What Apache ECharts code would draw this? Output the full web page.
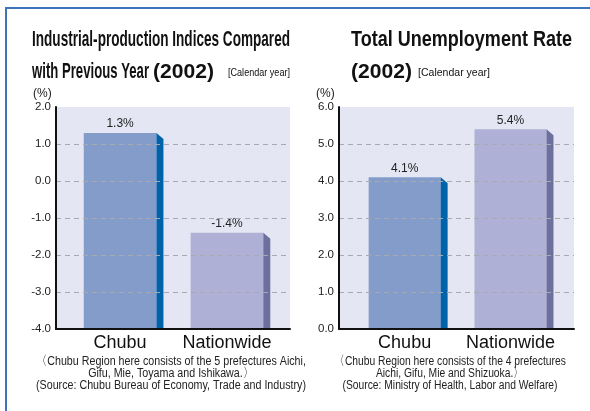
<!DOCTYPE html>
<html>
<head>
<meta charset="utf-8">
<script src="https://cdn.jsdelivr.net/npm/echarts@6/dist/echarts.min.js"></script>
<style>
  html, body { margin: 0; padding: 0; background: #ffffff; }
  #chart { width: 590px; height: 411px; }
</style>
</head>
<body>
<div id="chart"></div>
<script>
// Categories and values (percent)
const categories = ['Chubu', 'Nationwide'];
const productionValues = [1.3, -1.4];
const unemploymentValues = [4.1, 5.4];
// Value-axis ranges: [min, max, step]
const productionAxis = [-4, 2, 1];
const unemploymentAxis = [0, 6, 1];

const FONT = '"Liberation Sans", Arial, Helvetica, sans-serif';
const frontColors = ['#839cca', '#aeb0d6'];
const sideColors = ['#0062a9', '#6d6f9e'];
const plotBg = '#e4e6f3';

const measureCtx = document.createElement('canvas').getContext('2d');
function textWidth(text, font) {
  measureCtx.font = font;
  return measureCtx.measureText(text).width;
}

// Text squeezed horizontally to a given width (condensed type look)
function fitText(text, font, x, y, width, align, fill) {
  const s = width / textWidth(text, font);
  return {
    type: 'text', x: x, y: y, scaleX: s, z: 10,
    style: { text: text, font: font, fill: fill || '#111',
             align: align || 'left', verticalAlign: 'middle' }
  };
}

// Block of centred lines sharing one horizontal scale
function noteBlock(lines, cx, y0, step, refWidth) {
  const font = '12.5px ' + FONT;
  const s = refWidth / textWidth(lines[lines.length - 1], font);
  return lines.map((t, k) => ({
    type: 'text', x: cx, y: y0 + k * step, scaleX: s, z: 10,
    style: { text: t, font: font, fill: '#222', align: 'center', verticalAlign: 'middle' }
  }));
}

// Bar with a darker bevelled side face, rising from the axis minimum
function barRenderer(axisMin) {
  return function (params, api) {
    const i = api.value(0);
    const v = api.value(1);
    const top = api.coord([i, v]);
    const base = api.coord([i, axisMin]);
    const w = api.size([1, 0])[0] * 0.68;
    const x0 = top[0] - w / 2;
    const x1 = top[0] + w / 2;
    const dx = 7, dy = 6;
    return {
      type: 'group',
      children: [
        { type: 'rect', shape: { x: x0, y: top[1], width: w, height: base[1] - top[1] },
          style: { fill: frontColors[i] } },
        { type: 'polygon',
          shape: { points: [[x1, top[1]], [x1 + dx, top[1] + dy], [x1 + dx, base[1]], [x1, base[1]]] },
          style: { fill: sideColors[i] } },
        { type: 'text', x: top[0], y: top[1] - 9,
          style: { text: v.toFixed(1) + '%', font: '12px ' + FONT, fill: '#222',
                   align: 'center', verticalAlign: 'middle' } }
      ]
    };
  };
}

function valueAxis(gridIndex, range) {
  return {
    gridIndex: gridIndex, type: 'value',
    min: range[0], max: range[1], interval: range[2], z: 5,
    axisLine: { show: true, onZero: false, lineStyle: { color: '#111', width: 2 } },
    axisTick: { show: false },
    axisLabel: { formatter: v => v.toFixed(1), fontSize: 11.5, fontFamily: FONT,
                 color: '#222', margin: 5 },
    splitLine: { show: true, showMinLine: false, showMaxLine: false,
                 lineStyle: { color: '#a9a9b0', type: [5, 4], width: 1 } }
  };
}

function categoryAxis(gridIndex, min, max) {
  return {
    gridIndex: gridIndex, type: 'value', min: min, max: max, z: 5,
    axisLine: { show: true, onZero: false, lineStyle: { color: '#111', width: 2 } },
    axisTick: { show: false },
    splitLine: { show: false },
    axisLabel: { customValues: [0, 1], formatter: v => categories[Math.round(v)] || '',
                 fontSize: 18, fontFamily: FONT, color: '#111', margin: 5 }
  };
}

const chart = echarts.init(document.getElementById('chart'), null, { renderer: 'canvas' });

const titleFont = 'bold 22px ' + FONT;
const smallFont = '11px ' + FONT;

chart.setOption({
  animation: false,
  backgroundColor: '#ffffff',
  grid: [
    { left: 56, top: 107, width: 234, height: 222, show: true,
      backgroundColor: plotBg, borderWidth: 0 },
    { left: 339, top: 107, width: 235, height: 222, show: true,
      backgroundColor: plotBg, borderWidth: 0 }
  ],
  xAxis: [categoryAxis(0, -0.6, 1.59), categoryAxis(1, -0.62, 1.6)],
  yAxis: [valueAxis(0, productionAxis), valueAxis(1, unemploymentAxis)],
  series: [
    { type: 'custom', xAxisIndex: 0, yAxisIndex: 0, clip: false, z: 3,
      renderItem: barRenderer(productionAxis[0]),
      data: categories.map((c, i) => [i, productionValues[i]]) },
    { type: 'custom', xAxisIndex: 1, yAxisIndex: 1, clip: false, z: 3,
      renderItem: barRenderer(unemploymentAxis[0]),
      data: categories.map((c, i) => [i, unemploymentValues[i]]) }
  ],
  graphic: [
    // frame
    { type: 'polyline', z: 0,
      shape: { points: [[6, 411], [6, 8], [590, 8]] },
      style: { stroke: '#3d74ba', lineWidth: 2, fill: null } },

    // left titles
    fitText('Industrial-production Indices Compared', titleFont, 32, 40, 258),
    fitText('with Previous Year', titleFont, 32, 72, 117),
    fitText('(2002)', 'bold 21px ' + FONT, 153, 72, 61),
    fitText('[Calendar year]', smallFont, 228, 73, 62),
    { type: 'text', x: 33, y: 94, z: 10,
      style: { text: '(%)', font: '12px ' + FONT, fill: '#222', align: 'left', verticalAlign: 'middle' } },

    // right titles
    fitText('Total Unemployment Rate', titleFont, 351, 40, 221),
    fitText('(2002)', 'bold 21px ' + FONT, 351, 72, 61),
    fitText('[Calendar year]', smallFont, 418, 73, 72),
    { type: 'text', x: 316, y: 94, z: 10,
      style: { text: '(%)', font: '12px ' + FONT, fill: '#222', align: 'left', verticalAlign: 'middle' } }
  ]
  .concat(noteBlock([
    '\u3008Chubu Region here consists of the 5 prefectures Aichi,',
    'Gifu, Mie, Toyama and Ishikawa.\u3009',
    '(Source: Chubu Bureau of Economy, Trade and Industry)'
  ], 171, 362, 12, 270))
  .concat(noteBlock([
    '\u3008Chubu Region here consists of the 4 prefectures',
    'Aichi, Gifu, Mie and Shizuoka.\u3009',
    '(Source: Ministry of Health, Labor and Welfare)'
  ], 450, 362, 12, 215))
});
</script>
</body>
</html>
